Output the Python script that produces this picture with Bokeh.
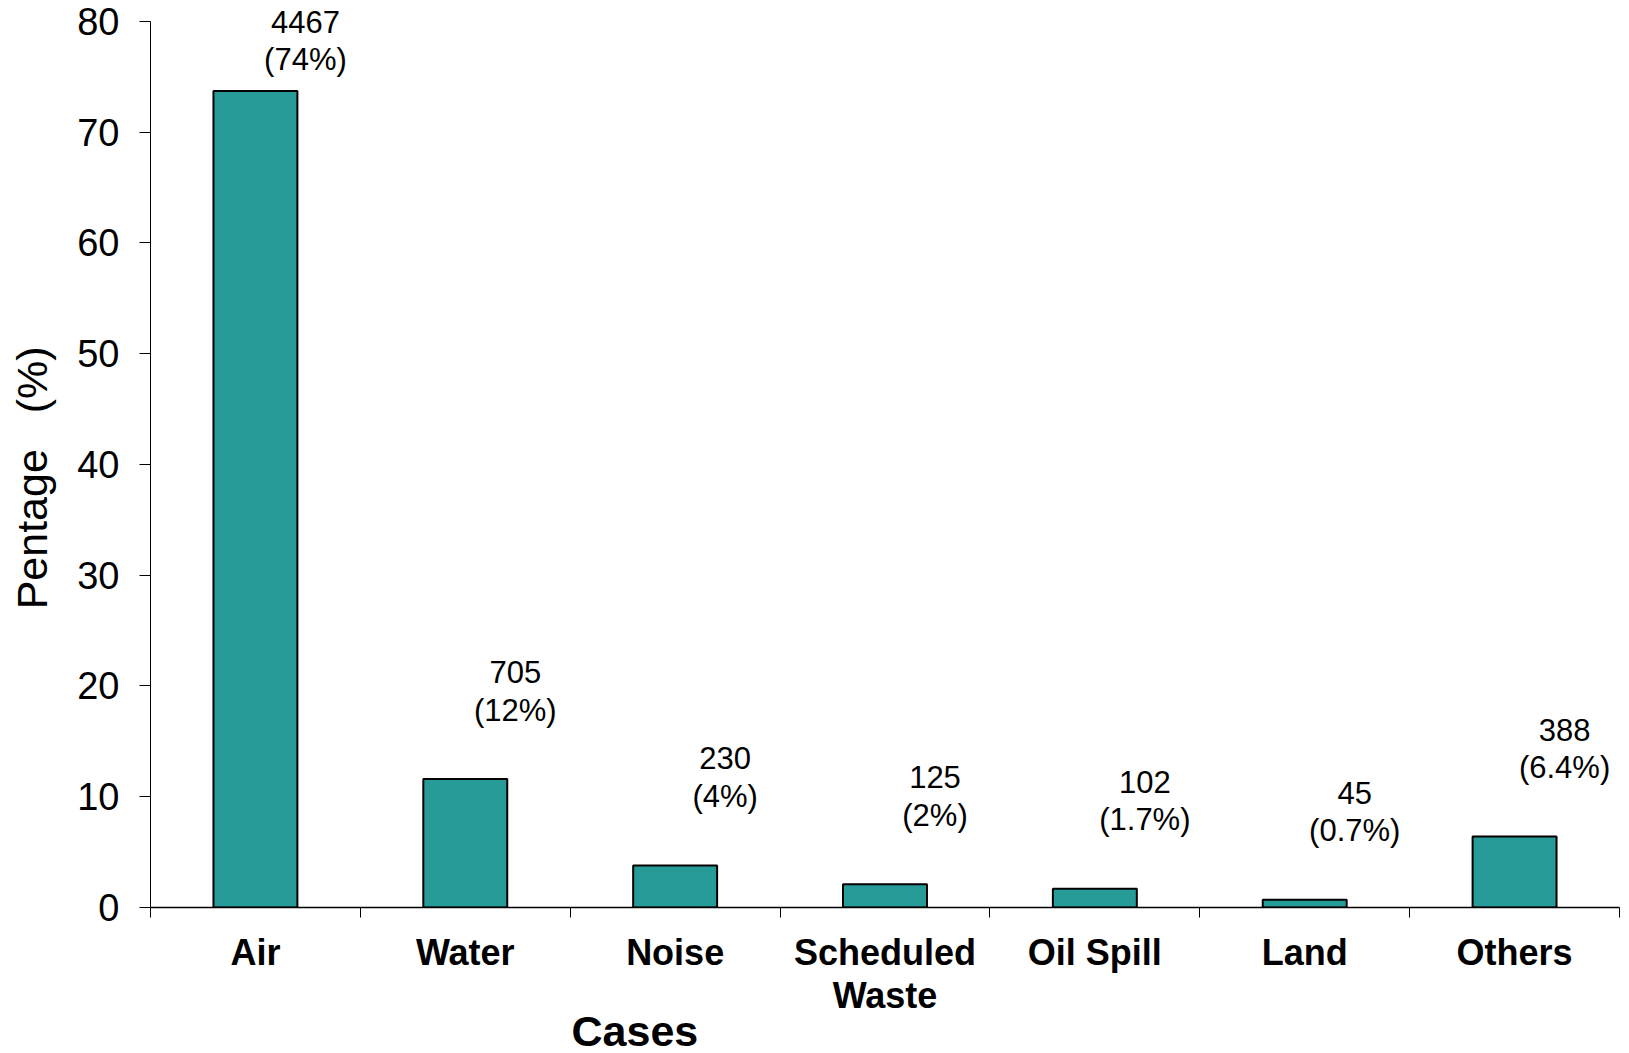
from bokeh.plotting import figure
from bokeh.models import (Range1d, LinearAxis, FixedTicker, Title, ColumnDataSource)
from bokeh.embed import file_html
from bokeh.resources import INLINE
from bokeh.core.properties import value

# ---- data ----
categories = ["Air", "Water", "Noise", "Scheduled Waste", "Oil Spill", "Land", "Others"]
tick_labels = ["Air", "Water", "Noise", "Scheduled\nWaste", "Oil Spill", "Land", "Others"]
percent = [73.7, 11.6, 3.8, 2.1, 1.7, 0.7, 6.4]
counts = ["4467", "705", "230", "125", "102", "45", "388"]
pct_text = ["(74%)", "(12%)", "(4%)", "(2%)", "(1.7%)", "(0.7%)", "(6.4%)"]
y_ticks = [0, 10, 20, 30, 40, 50, 60, 70, 80]

FONT = "Liberation Sans"
BAR = "#279B98"

n = len(categories)
xpos = [i + 0.5 for i in range(n)]          # category centres on a 0..n scale

frame_h = 907
y_max = 81.88
px_per_unit = frame_h / y_max
# anchor (baseline of first label line) floats above the bar, capped near the top tick
anchor = [min(v + 107 / px_per_unit, 80 - 0.5 / px_per_unit) for v in percent]

src = ColumnDataSource(dict(x=xpos, val=percent, cnt=counts,
                            pct=pct_text, anchor=anchor))

p = figure(x_range=Range1d(0, n), y_range=Range1d(0, y_max),
           frame_width=1469, frame_height=frame_h,
           min_border_left=150, min_border_right=8,
           min_border_top=0, min_border_bottom=140,
           x_axis_location=None, y_axis_location=None,
           toolbar_location=None, output_backend="svg")
p.outline_line_color = None
p.grid.grid_line_color = None
p.background_fill_color = "white"
p.border_fill_color = "white"

p.vbar(x="x", top="val", width=0.4, source=src, fill_color=BAR,
       line_color="black", line_width=2)

p.text(x="x", y="anchor", text="cnt", source=src, x_offset=50,
       text_align="center", text_baseline="alphabetic",
       text_font=value(FONT), text_font_size="31px", text_color="black")
p.text(x="x", y="anchor", text="pct", source=src, x_offset=50, y_offset=38,
       text_align="center", text_baseline="alphabetic",
       text_font=value(FONT), text_font_size="31px", text_color="black")

# y axis
yax = LinearAxis(ticker=FixedTicker(ticks=y_ticks), bounds=(0, 80))
yax.axis_label = "Pentage\u00a0\u00a0\u00a0(%)" + "\u00a0" * 4
yax.axis_label_text_font = FONT
yax.axis_label_text_font_style = "normal"
yax.axis_label_text_font_size = "43px"
yax.axis_label_text_color = "black"
yax.axis_label_standoff = 18
yax.major_label_text_font = FONT
yax.major_label_text_font_size = "38px"
yax.major_label_text_color = "black"
yax.major_label_standoff = 20
yax.major_tick_out = 11
yax.major_tick_in = 0
yax.minor_tick_line_color = None
yax.axis_line_color = "black"
yax.major_tick_line_color = "black"
p.add_layout(yax, "left")

# x axis: ticks at category boundaries
bax = LinearAxis(ticker=FixedTicker(ticks=list(range(n + 1))))
bax.major_label_text_font_size = "1px"
bax.major_label_text_color = None
bax.major_label_standoff = 0
bax.major_tick_out = 10
bax.major_tick_in = 0
bax.minor_tick_line_color = None
bax.axis_line_color = "black"
bax.axis_line_width = 1.5
bax.major_tick_line_color = "black"
p.add_layout(bax, "below")

# x axis: category labels at the centres
cax = LinearAxis(ticker=FixedTicker(ticks=xpos))
cax.axis_line_color = None
cax.major_tick_line_color = None
cax.minor_tick_line_color = None
cax.major_label_overrides = {x: t for x, t in zip(xpos, tick_labels)}
cax.major_label_text_font = FONT
cax.major_label_text_font_style = "bold"
cax.major_label_text_font_size = "36px"
cax.major_label_text_color = "black"
cax.major_label_text_line_height = 1.05
cax.major_label_standoff = 8
p.add_layout(cax, "below")

p.add_layout(Title(text="Cases", align="left", offset=421, standoff=-28,
                   text_font=FONT, text_font_style="bold",
                   text_font_size="43px", text_color="black"), "below")

open("out.html", "w").write(file_html(p, INLINE))
